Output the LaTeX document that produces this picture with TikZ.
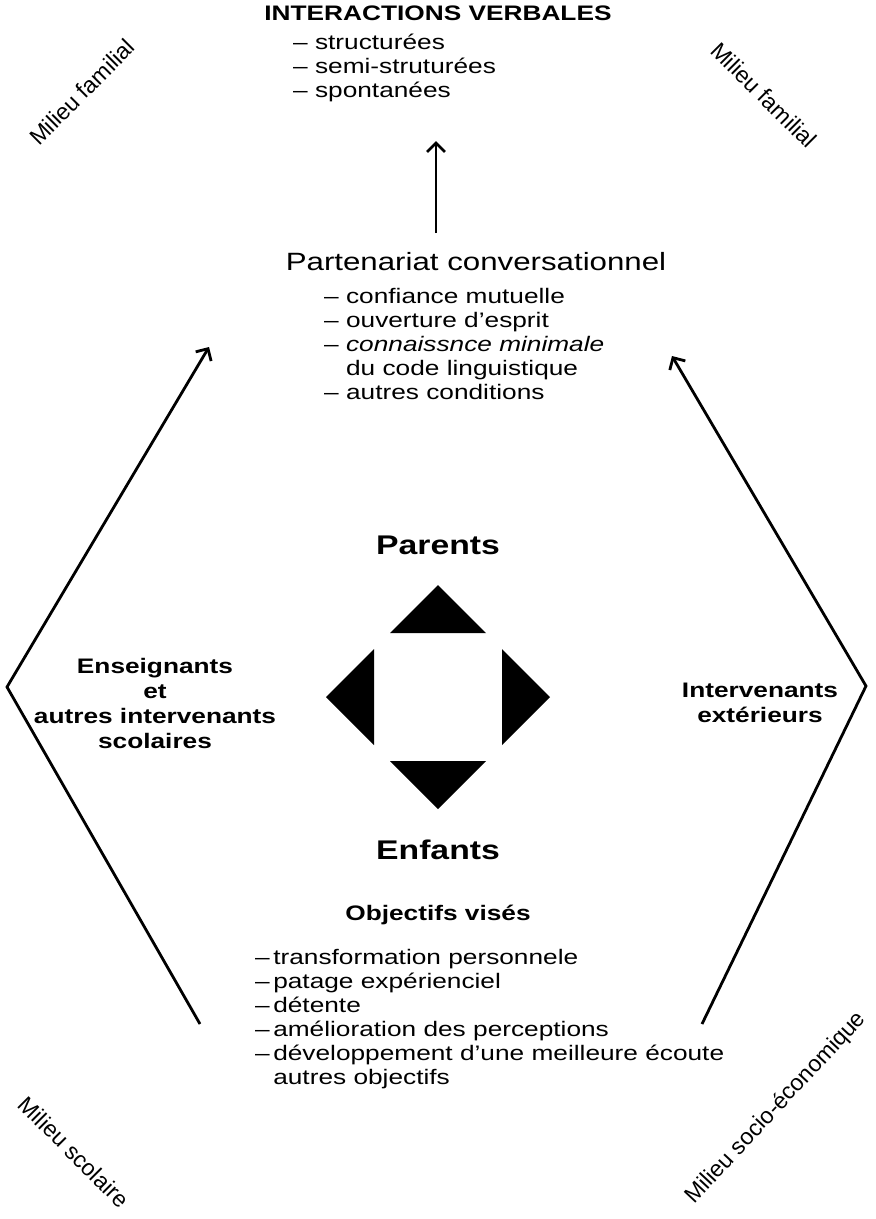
\documentclass[tikz,border=0pt]{standalone}
\usepackage{fontspec}
\setmainfont{Liberation Sans}[FakeStretch=1.25]
\newfontfamily\milieufont{Liberation Sans}
\usepackage{tikz}
\usetikzlibrary{arrows.meta}
\tikzset{
    titre/.style = {font=\bfseries\fontsize{21}{24}\selectfont, inner sep=0pt},
    liste/.style = {font=\fontsize{21}{24}\selectfont, align=left, inner sep=0pt},
    grand/.style = {font=\fontsize{25}{28}\selectfont, inner sep=0pt},
    acteur/.style = {font=\bfseries\fontsize{27}{32}\selectfont, inner sep=0pt},
    groupe/.style = {font=\bfseries\fontsize{21}{25}\selectfont, align=center, inner sep=0pt},
    milieu/.style = {font=\milieufont\fontsize{23}{26}\selectfont, inner sep=0pt},
    fleche/.style = {line width=2.8pt, -{Straight Barb[length=9pt,width=18pt]}}
}
\begin{document}
\begin{tikzpicture}[x=1pt, y=-1pt]
\useasboundingbox (0,0) rectangle (876,1219);

\node (inter) [titre] at (438,13) {INTERACTIONS VERBALES};
\node (types) [liste, anchor=north west] at (293,34) {– structurées\\– semi-struturées\\– spontanées};

\node (partenariat) [grand] at (476,262) {Partenariat conversationnel};
\node (conditions) [liste, anchor=north west] at (324,288) {– confiance mutuelle\\– ouverture d’esprit\\– \textit{connaissnce minimale}\\\phantom{– }du code linguistique\\– autres conditions};

\coordinate (pied) at (436,233);
\coordinate (pointe) at (436,141);
\draw [fleche] (pied) -- (pointe);

\node (parents) [acteur] at (438,545) {Parents};
\node (enfants) [acteur] at (438,850) {Enfants};
\coordinate (centre) at (438,697);
\foreach \angle in {0,90,180,270}
    \fill [shift={(centre)}, rotate=\angle] (-48,-64) -- (48,-64) -- (0,-112) -- cycle;

\node (enseignants) [groupe] at (155,703) {Enseignants\\et\\autres intervenants\\scolaires};
\node (exterieurs) [groupe] at (760,703) {Intervenants\\extérieurs};

\node (objectifs) [titre] at (438,915) {Objectifs visés};
\node (buts) [liste, anchor=north west] at (255,949) {–\,transformation personnele\\–\,patage expérienciel\\–\,détente\\–\,amélioration des perceptions\\–\,développement d’une meilleure écoute\\\phantom{–\,}autres objectifs};

\coordinate (gbas) at (200,1024);
\coordinate (gcoin) at (7,687);
\coordinate (ghaut) at (209,347);
\draw [fleche] (gbas) -- (gcoin) -- (ghaut);
\coordinate (dbas) at (702,1024);
\coordinate (dcoin) at (866,686);
\coordinate (dhaut) at (672,356);
\draw [fleche] (dbas) -- (dcoin) -- (dhaut);

\node (famille1) [milieu, rotate=45] at (82,92) {Milieu familial};
\node (famille2) [milieu, rotate=-45] at (764,95) {Milieu familial};
\node (ecole) [milieu, rotate=-45] at (74,1152) {Milieu scolaire};
\node (socio) [milieu, rotate=47] at (776,1108) {Milieu socio-économique};
\end{tikzpicture}
\end{document}
